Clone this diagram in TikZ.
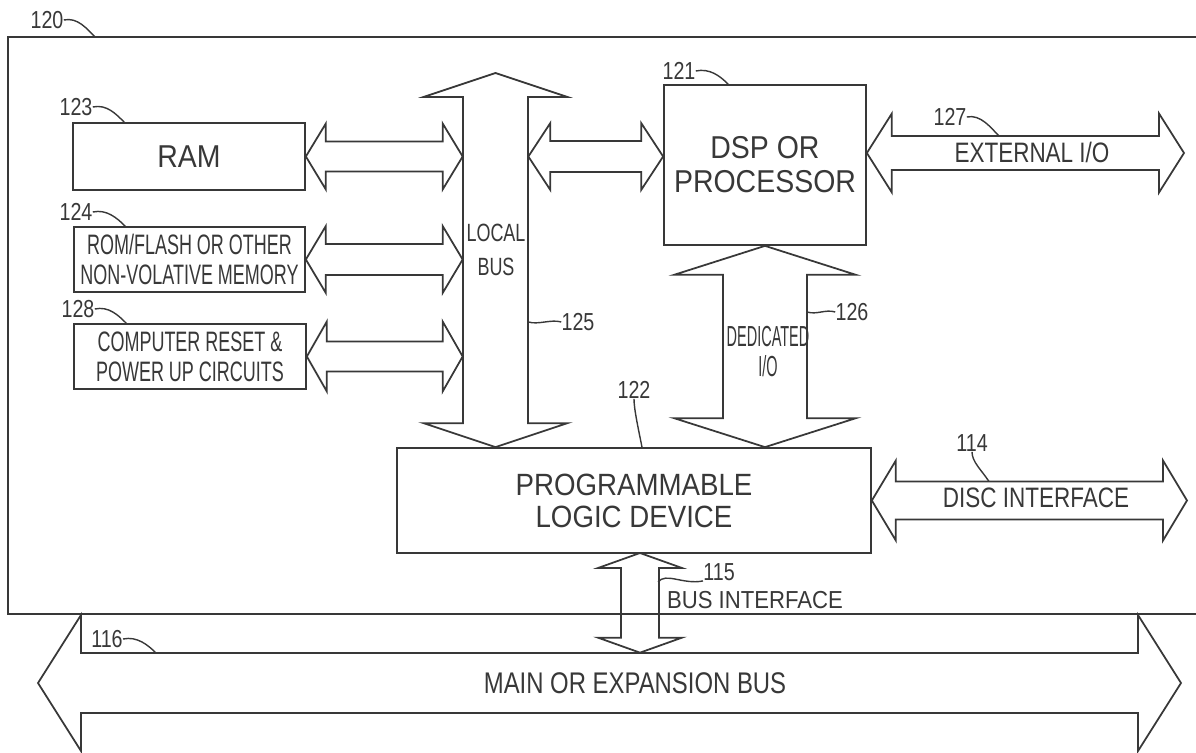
\documentclass[tikz,border=0pt]{standalone}
\usepackage{fontspec}
\setmainfont{Liberation Sans}
\newfontfamily\fA[FakeStretch=0.9]{Liberation Sans}
\newfontfamily\fB[FakeStretch=0.64]{Liberation Sans}
\newfontfamily\fC[FakeStretch=0.8]{Liberation Sans}
\newfontfamily\fD[FakeStretch=0.5]{Liberation Sans}
\newfontfamily\fE[FakeStretch=0.72]{Liberation Sans}
\usetikzlibrary{calc}
\definecolor{ink}{gray}{0.22}
% horizontal double block arrow: #1 left tip, #2 right tip, #3 shaft half, #4 head half, #5 head length
\newcommand\HBus[5]{\draw[bus] let \p1=(#1), \p2=(#2) in
  (\p1) -- (\x1+#5,\y1+#4) -- (\x1+#5,\y1+#3) -- (\x2-#5,\y1+#3) -- (\x2-#5,\y1+#4)
  -- (\x2,\y1) -- (\x2-#5,\y1-#4) -- (\x2-#5,\y1-#3) -- (\x1+#5,\y1-#3) -- (\x1+#5,\y1-#4) -- cycle;}
% vertical double block arrow: #1 bottom tip, #2 top tip
\newcommand\VBus[5]{\draw[bus] let \p1=(#1), \p2=(#2) in
  (\p1) -- (\x1+#4,\y1+#5) -- (\x1+#3,\y1+#5) -- (\x1+#3,\y2-#5) -- (\x1+#4,\y2-#5)
  -- (\x1,\y2) -- (\x1-#4,\y2-#5) -- (\x1-#3,\y2-#5) -- (\x1-#3,\y1+#5) -- (\x1-#4,\y1+#5) -- cycle;}
\begin{document}
\begin{tikzpicture}[x=0.02cm,y=-0.02cm,
  box/.style={draw=ink, line width=1pt, inner sep=0pt, align=center, text=ink},
  bus/.style={draw=ink, line width=1pt, line join=miter},
  lead/.style={draw=ink, line width=0.8pt},
  num/.style={text=ink, inner sep=0pt, font=\fC\fontsize{14}{14}\selectfont},
  lbl/.style={text=ink, inner sep=0pt, align=center}]
\useasboundingbox (0,0) rectangle (1196,753);
% outer board 120
\draw[bus] (1196,37) -- (8,37) -- (8,614) -- (1196,614);
\coordinate (c120) at (95,37);
% blocks
\node[box, minimum width=4.64cm, minimum height=1.34cm, font=\fA\fontsize{18}{18}\selectfont] (ram) at (189,156.5) {RAM};
\node[box, minimum width=4.62cm, minimum height=1.3cm, font=\fB\fontsize{16}{17}\selectfont] (rom) at (189.5,259.5) {ROM/FLASH OR OTHER\\NON-VOLATIVE MEMORY};
\node[box, minimum width=4.64cm, minimum height=1.3cm, font=\fB\fontsize{16}{17}\selectfont] (rst) at (190,356.5) {COMPUTER RESET \&\\POWER UP CIRCUITS};
\node[box, minimum width=4.04cm, minimum height=3.2cm, font=\fA\fontsize{18}{19.3}\selectfont] (dsp) at (765,165) {DSP OR\\PROCESSOR};
\node[box, minimum width=9.48cm, minimum height=2.1cm, font=\fA\fontsize{17.5}{18.2}\selectfont] (pld) at (634,500.5) {PROGRAMMABLE\\LOGIC DEVICE};
% invisible shafts
\node[inner sep=0pt, minimum width=1.3cm, minimum height=6.54cm] (lbus) at (495.5,258.5) {};
\node[inner sep=0pt, minimum width=21.16cm, minimum height=1.2cm] (mbus) at (609.5,683) {};
\coordinate (lbtop) at (495.5,73);
\coordinate (exttip) at (1184,153);
\coordinate (disctip) at (1187,500.5);
\coordinate (mbL) at (38,683);
\coordinate (mbR) at (1181,683);
\coordinate (bitop) at (640,553);
% block arrows
\HBus{ram.east}{lbus.west |- ram.east}{0.3cm}{0.66cm}{0.4cm}
\HBus{rom.east}{lbus.west |- rom.east}{0.31cm}{0.67cm}{0.4cm}
\HBus{rst.east}{lbus.west |- rst.east}{0.3cm}{0.7cm}{0.4cm}
\HBus{lbus.east |- ram.east}{dsp.west |- ram.east}{0.31cm}{0.67cm}{0.44cm}
\HBus{dsp.east |- exttip}{exttip}{0.34cm}{0.79cm}{0.5cm}
\HBus{pld.east}{disctip}{0.38cm}{0.8cm}{0.48cm}
\HBus{mbL}{mbR}{0.6cm}{1.36cm}{0.86cm}
\VBus{lbus |- pld.north}{lbtop}{0.65cm}{1.44cm}{0.48cm}
\VBus{pld.north -| dsp.south}{dsp.south}{0.84cm}{1.82cm}{0.58cm}
\VBus{mbus.north -| bitop}{bitop}{0.38cm}{0.84cm}{0.3cm}
% texts on arrows
\node[lbl, font=\fE\fontsize{14.2}{19.3}\selectfont] (lbt) at (496,250) {LOCAL\\BUS};
\node[lbl, font=\fD\fontsize{16.5}{16.5}\selectfont] (ded) at (768,337) {DEDICATED};
\node[lbl, font=\fD\fontsize{16.5}{16.5}\selectfont] (dio) at (768,366) {I/O};
\node[lbl, font=\fC\fontsize{16}{16}\selectfont] (extt) at (1032,152) {EXTERNAL I/O};
\node[lbl, font=\fC\fontsize{16}{16}\selectfont] (disct) at (1036,498) {DISC INTERFACE};
\node[lbl, font=\fA\fontsize{14}{14}\selectfont] (bit) at (755,600) {BUS INTERFACE};
\node[lbl, font=\fC\fontsize{17}{17}\selectfont] (mbt) at (635,683) {MAIN OR EXPANSION BUS};
% reference numerals
\node[num] (l120) at (47,20) {120};
\node[num] (l123) at (76,107) {123};
\node[num] (l124) at (76,212) {124};
\node[num] (l128) at (78,309) {128};
\node[num] (l121) at (679,71) {121};
\node[num] (l127) at (950,117) {127};
\node[num] (l125) at (578,322) {125};
\node[num] (l126) at (852,312) {126};
\node[num] (l122) at (634,390) {122};
\node[num] (l114) at (972,443) {114};
\node[num] (l115) at (719,572) {115};
\node[num] (l116) at (107,639) {116};
% leaders
\draw[lead] (l120.east) .. controls +(14,-3) and +(-8,-8) .. (c120);
\draw[lead] (l123.east) .. controls +(14,-3) and +(-8,-8) .. ($(ram.north west)+(52,0)$);
\draw[lead] (l124.east) .. controls +(14,-3) and +(-8,-8) .. ($(rom.north west)+(52,0)$);
\draw[lead] (l128.east) .. controls +(14,-3) and +(-8,-8) .. ($(rst.north west)+(53,0)$);
\draw[lead] (l121.east) .. controls +(14,-3) and +(-8,-8) .. ($(dsp.north west)+(65,0)$);
\draw[lead] (l127.east) .. controls +(14,-3) and +(-8,-8) .. ($(exttip)+(-185,-17)$);
\draw[lead] (lbus.east |- l125.west) .. controls +(10,3) and +(-10,-3) .. (l125.west);
\draw[lead] ($(dsp.south |- l126.west)+(42,0)$) .. controls +(10,3) and +(-10,-3) .. (l126.west);
\draw[lead] (l122.south) .. controls +(0,10) and +(-4,-20) .. ($(pld.north)+(8,0)$);
\draw[lead] (l114.south) .. controls +(0,10) and +(-8,-12) .. ($(disctip)+(-198,-19)$);
\draw[lead] ($(bitop)+(18,29)$) .. controls +(8,-10) and +(-20,4) .. (l115.south west);
\draw[lead] (l116.east) .. controls +(14,-3) and +(-8,-8) .. ($(mbL)+(118,-30)$);
\end{tikzpicture}
\end{document}
